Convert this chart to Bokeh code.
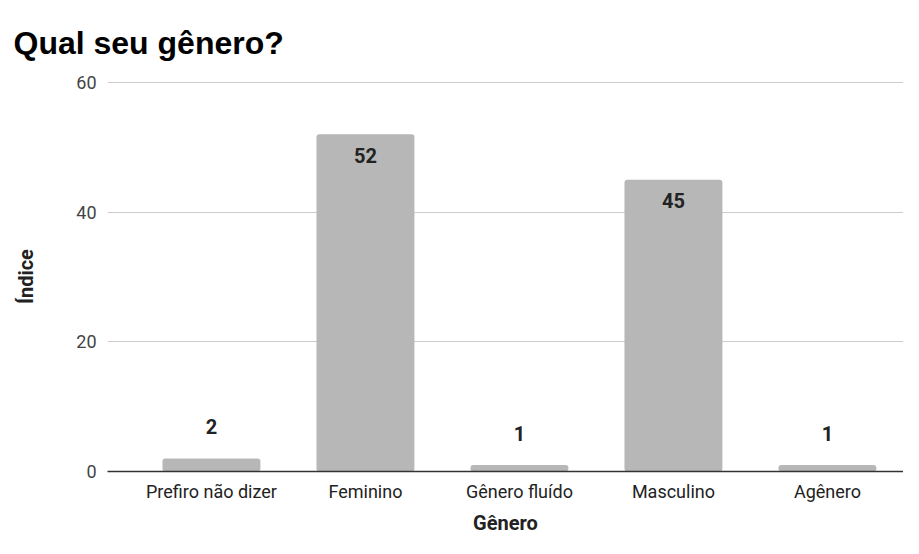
from bokeh.plotting import figure
from bokeh.models import ColumnDataSource, Range1d, FixedTicker, Title
from bokeh.core.properties import value
from bokeh.embed import file_html
from bokeh.resources import INLINE

title_text = "Qual seu gênero?"
categories = ["Prefiro não dizer", "Feminino", "Gênero fluído", "Masculino", "Agênero"]
counts = [2, 52, 1, 45, 1]
y_ticks = [0, 20, 40, 60]

xs = list(range(len(categories)))
labels = [str(c) for c in counts]
inside = [c >= 10 for c in counts]

src = ColumnDataSource(dict(x=xs, top=counts, label=labels))
src_in = ColumnDataSource(dict(x=[x for x, i in zip(xs, inside) if i],
                               y=[c for c, i in zip(counts, inside) if i],
                               label=[l for l, i in zip(labels, inside) if i]))
src_out = ColumnDataSource(dict(x=[x for x, i in zip(xs, inside) if not i],
                                y=[c for c, i in zip(counts, inside) if not i],
                                label=[l for l, i in zip(labels, inside) if not i]))

p = figure(width=903, height=538, output_backend="svg", toolbar_location=None,
           x_range=Range1d(-0.675, 4.494), y_range=Range1d(0, 60.15),
           min_border_left=107, min_border_right=0, min_border_top=81, min_border_bottom=67)
p.outline_line_color = None

p.title = Title(text=title_text, text_font="Liberation Sans",
                text_font_size="32px", text_font_style="bold", text_color="#000000",
                align="left", offset=-94, standoff=41)

p.vbar(x="x", top="top", width=0.636, bottom=0, source=src,
       fill_color="#b7b7b7", line_color=None, border_radius=3)

p.text(x="x", y="y", text="label", source=src_in, text_align="center",
       text_baseline="middle", y_offset=21, text_font=value("Roboto"),
       text_font_size="20px", text_font_style="bold", text_color="#222222")
p.text(x="x", y="y", text="label", source=src_out, text_align="center",
       text_baseline="middle", y_offset=-32, text_font=value("Roboto"),
       text_font_size="20px", text_font_style="bold", text_color="#222222")

# x axis
p.xaxis.ticker = FixedTicker(ticks=xs)
p.xaxis.major_label_overrides = {i: c for i, c in zip(xs, categories)}
p.xaxis.major_tick_line_color = None
p.xaxis.major_tick_out = 0
p.xaxis.major_tick_in = 0
p.xaxis.minor_tick_line_color = None
p.xaxis.axis_line_color = "#333333"
p.xaxis.axis_line_width = 1.5
p.xaxis.major_label_text_font = "Roboto"
p.xaxis.major_label_text_font_size = "18px"
p.xaxis.major_label_text_color = "#222222"
p.xaxis.major_label_standoff = 9
p.xaxis.axis_label = "Gênero"
p.xaxis.axis_label_text_font = "Roboto"
p.xaxis.axis_label_text_font_size = "20px"
p.xaxis.axis_label_text_font_style = "bold"
p.xaxis.axis_label_text_color = "#222222"
p.xaxis.axis_label_standoff = 6
p.xgrid.grid_line_color = None

# y axis
p.yaxis.ticker = FixedTicker(ticks=y_ticks)
p.yaxis.axis_line_color = None
p.yaxis.major_tick_line_color = None
p.yaxis.major_tick_out = 0
p.yaxis.major_tick_in = 0
p.yaxis.minor_tick_line_color = None
p.yaxis.major_label_text_font = "Roboto"
p.yaxis.major_label_text_font_size = "18px"
p.yaxis.major_label_text_color = "#444444"
p.yaxis.major_label_standoff = 11
p.yaxis.axis_label = "Índice"
p.yaxis.axis_label_text_font = "Roboto"
p.yaxis.axis_label_text_font_size = "20px"
p.yaxis.axis_label_text_font_style = "bold"
p.yaxis.axis_label_text_color = "#222222"
p.yaxis.axis_label_standoff = 35
p.ygrid.grid_line_color = "#cccccc"
p.ygrid.grid_line_width = 1

open("out.html", "w").write(file_html(p, INLINE))
